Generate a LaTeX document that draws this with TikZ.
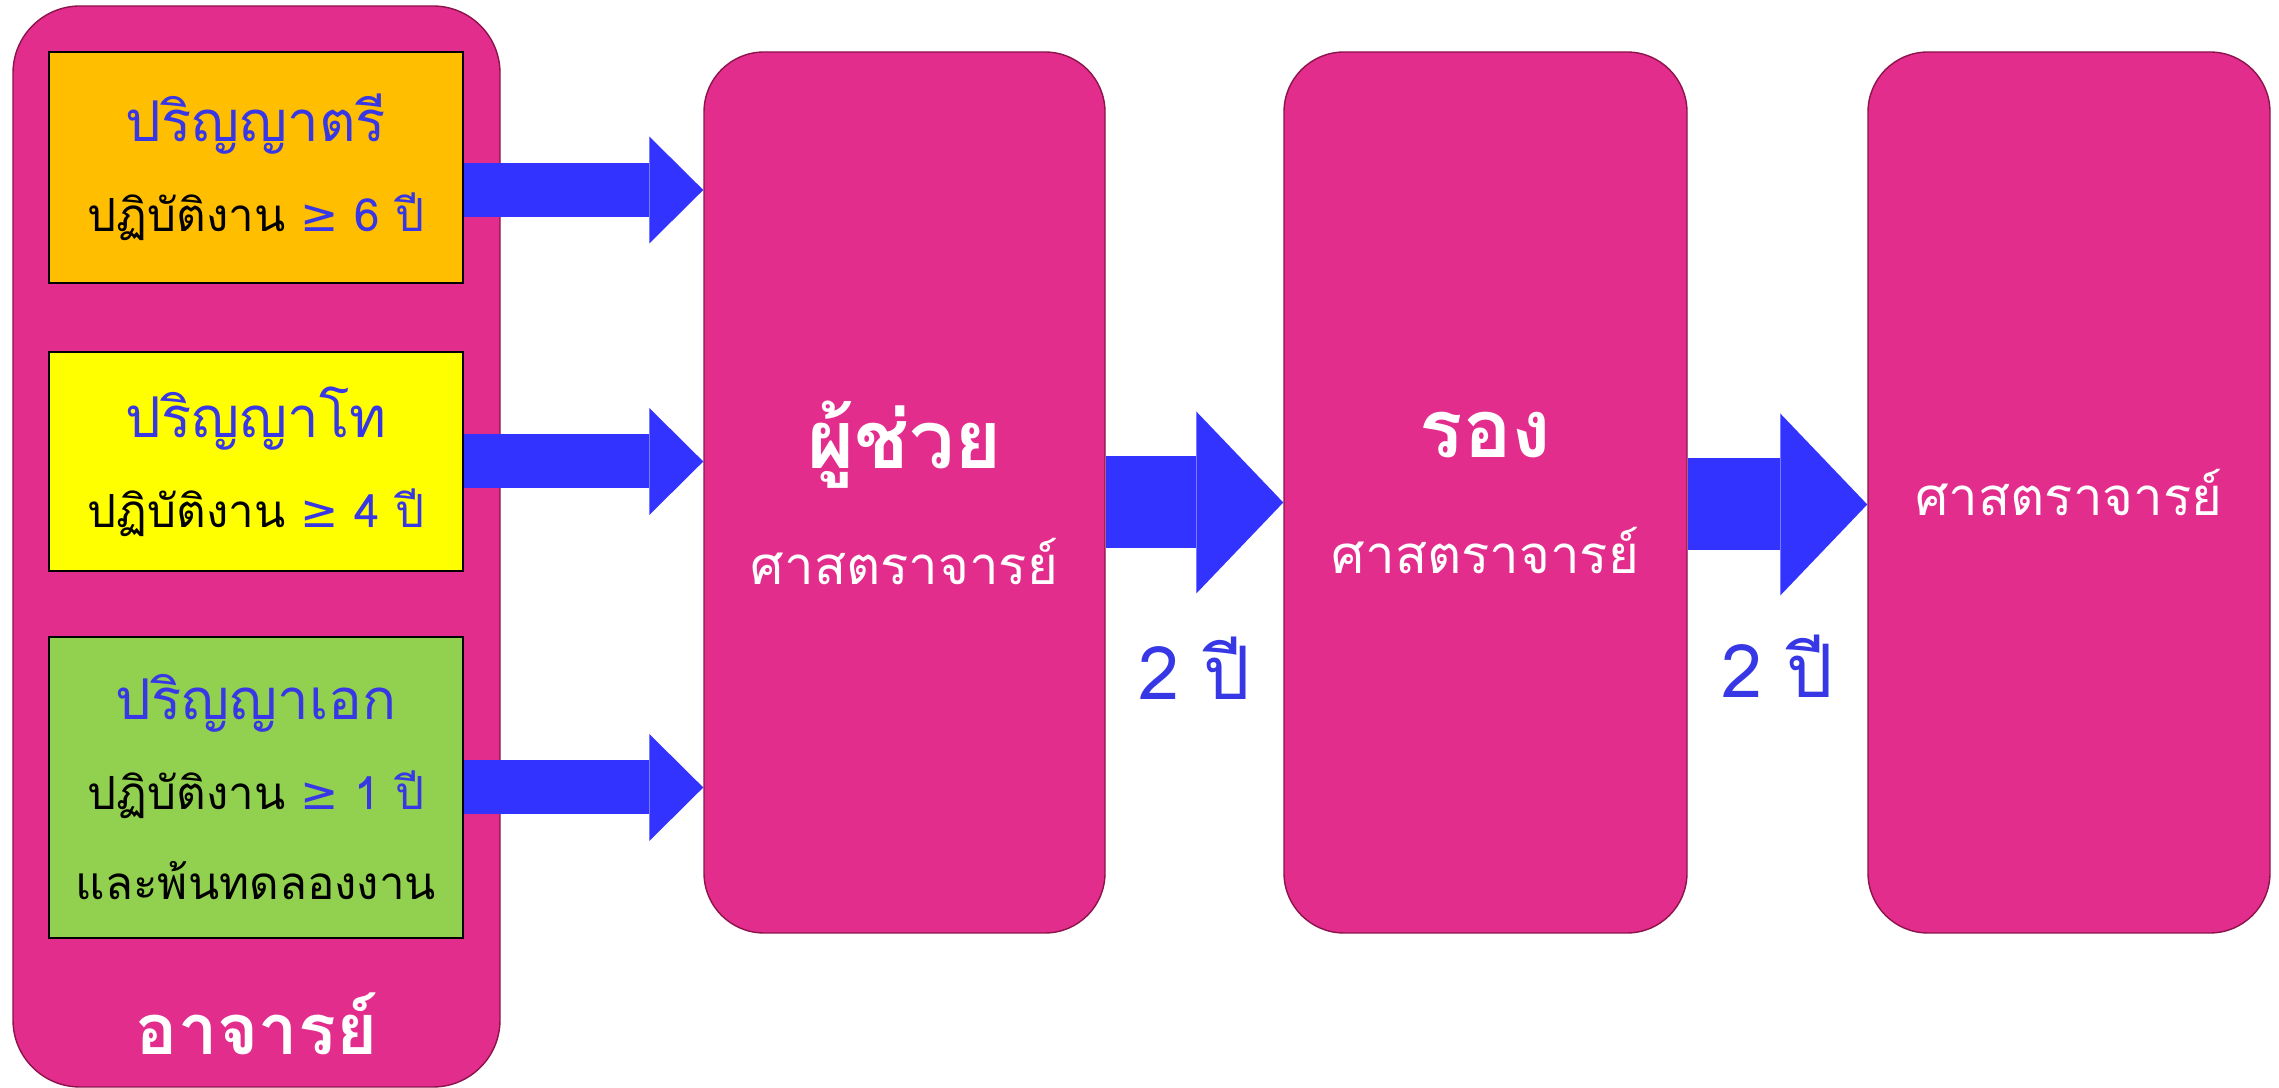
\documentclass[tikz,border=0pt]{standalone}
\usepackage{fontspec}
\setmainfont[Script=Thai]{Loma}
\newfontfamily\geqfont{DejaVu Sans}
\usepackage{xcolor}
\usepackage{tikz}
\usetikzlibrary{positioning}
\usetikzlibrary{arrows.meta}
\definecolor{rankpink}{RGB}{227,45,141}
\definecolor{rankedge}{RGB}{140,20,75}
\definecolor{degorange}{RGB}{255,190,0}
\definecolor{degyellow}{RGB}{255,255,0}
\definecolor{deggreen}{RGB}{146,208,80}
\definecolor{degblue}{RGB}{55,55,230}
\definecolor{arrowblue}{RGB}{51,51,255}
\newcommand{\degname}[1]{{\fontsize{16}{25.6}\selectfont\color{degblue}#1}}
\newcommand{\degyears}[1]{\textcolor{degblue}{{\geqfont ≥} #1 ปี}}
\tikzset{
    rankbox/.style = {rectangle, rounded corners=0.6cm, draw=rankedge, fill=rankpink, text=white, align=center, font=\fontsize{15}{33}\selectfont},
    degbox/.style = {rectangle, draw=black, align=center, minimum width=4.14cm, font=\fontsize{13}{25.6}\selectfont},
}

\begin{document}
\begin{tikzpicture}
\tikzset{
    thinarrow/.style = {draw=arrowblue, line width=0.54cm, -{Triangle[length=0.54cm, width=1.07cm, line width=0pt]}},
    fatarrow/.style = {draw=arrowblue, line width=0.92cm, -{Triangle[length=0.87cm, width=1.82cm, line width=0pt]}},
    yearlbl/.style = {text=degblue, font=\fontsize{21}{25}\selectfont}
}
\useasboundingbox (0,0) rectangle (22.79,10.88);
% left column
\node[rankbox, minimum width=4.87cm, minimum height=10.81cm, rounded corners=0.67cm] at (2.565,5.415) (teacher) {};
\node[degbox, fill=degorange, minimum height=2.31cm] at (2.56,9.205) (bsc) {\degname{ปริญญาตรี}\\ปฏิบัติงาน \degyears{6}};
\node[degbox, fill=degyellow, minimum height=2.19cm] at (2.56,6.265) (msc) {\degname{ปริญญาโท}\\ปฏิบัติงาน \degyears{4}};
\node[degbox, fill=deggreen, minimum height=3.01cm] at (2.56,3.005) (phd) {\degname{ปริญญาเอก}\\ปฏิบัติงาน \degyears{1}\\และพ้นทดลองงาน};
\node[text=white, font=\bfseries\fontsize{20}{24}\selectfont, anchor=base] at ([yshift=0.33cm]teacher.south) (teachername) {อาจารย์};
%
\node[rankbox, minimum width=4.01cm, minimum height=8.81cm] at (9.045,5.955) (asst) {{\bfseries\fontsize{23}{33}\selectfont ผู้ช่วย}\\ศาสตราจารย์};
\node[rankbox, minimum width=4.03cm, minimum height=8.81cm] at (14.855,5.955) (assoc) {{\bfseries\fontsize{23}{33}\selectfont รอง}\\ศาสตราจารย์};
\node[rankbox, minimum width=4.02cm, minimum height=8.81cm] at (20.69,5.955) (prof) {ศาสตราจารย์};
%
\draw[thinarrow] ([yshift=-0.225cm]bsc.east) -- ([yshift=-0.225cm]bsc.east -| asst.west);
\draw[thinarrow] (msc.east) -- (msc.east -| asst.west);
\draw[thinarrow] (phd.east) -- (phd.east -| asst.west);
%
\draw[fatarrow] ([yshift=-0.1cm]asst.east) -- ([yshift=-0.1cm]assoc.west) node[midway, yshift=-1.66cm, yearlbl] (yrs1) {2 ปี};
\draw[fatarrow] ([yshift=-0.12cm]assoc.east) -- ([yshift=-0.12cm]prof.west) node[midway, yshift=-1.62cm, yearlbl] (yrs2) {2 ปี};
\end{tikzpicture}
\end{document}
